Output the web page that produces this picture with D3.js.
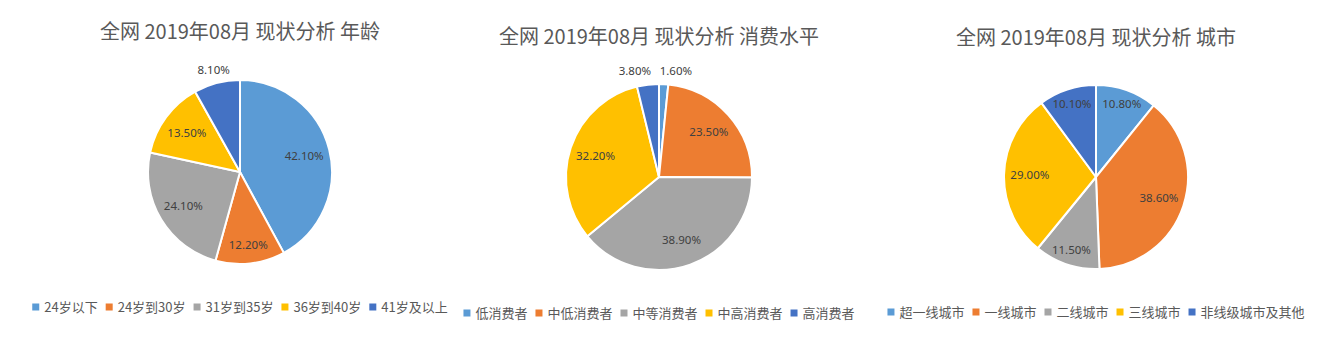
<!DOCTYPE html>
<html><head><meta charset="utf-8">
<script src="https://cdn.jsdelivr.net/npm/d3@7"></script>
<style>
html,body{margin:0;padding:0;background:#fff;}
svg{display:block;}
</style></head>
<body>
<svg id="chart" width="1338" height="339"></svg>
<script>
// ---- data ----
const titles = ["全网 2019年08月 现状分析 年龄", "全网 2019年08月 现状分析 消费水平", "全网 2019年08月 现状分析 城市"];
const ageCategories = ["24岁以下", "24岁到30岁", "31岁到35岁", "36岁到40岁", "41岁及以上"];
const ageValues = [42.1, 12.2, 24.1, 13.5, 8.1];
const spendCategories = ["低消费者", "中低消费者", "中等消费者", "中高消费者", "高消费者"];
const spendValues = [1.6, 23.5, 38.9, 32.2, 3.8];
const cityCategories = ["超一线城市", "一线城市", "二线城市", "三线城市", "非线级城市及其他"];
const cityValues = [10.8, 38.6, 11.5, 29.0, 10.1];
const colors = ["#5B9BD5", "#ED7D31", "#A5A5A5", "#FFC000", "#4472C4"];

// ---- layout ----
const layout = [
  {cx: 240, cy: 172, r: 92, titleY: 39, legendY: 307},
  {cx: 659, cy: 177, r: 93, titleY: 44, legendY: 313},
  {cx: 1096, cy: 177, r: 92, titleY: 45, legendY: 312}
];
const charts = [
  {title: titles[0], cats: ageCategories, vals: ageValues},
  {title: titles[1], cats: spendCategories, vals: spendValues},
  {title: titles[2], cats: cityCategories, vals: cityValues}
];

const svg = d3.select("#chart");
const cjk = "'Noto Sans CJK SC','Noto Sans',sans-serif";
const fmt = v => v.toFixed(2) + "%";

charts.forEach((c, i) => {
  const L = layout[i];
  const g = svg.append("g");
  // title
  g.append("text").attr("x", L.cx).attr("y", L.titleY)
    .attr("text-anchor", "middle").attr("font-family", cjk)
    .attr("font-size", 20).attr("fill", "#595959").text(c.title);

  const color = d3.scaleOrdinal().domain(c.cats).range(colors);
  const data = c.cats.map((k, j) => ({k, v: c.vals[j]}));
  const pie = d3.pie().value(d => d.v).sort(null);
  const arcs = pie(data);
  const arc = d3.arc().innerRadius(0).outerRadius(L.r);
  const pg = g.append("g").attr("transform", `translate(${L.cx},${L.cy})`);
  pg.selectAll("path").data(arcs).join("path")
    .attr("d", arc).attr("fill", d => color(d.data.k))
    .attr("stroke", "#fff").attr("stroke-width", 2).attr("stroke-linejoin", "round");

  // labels
  const total = d3.sum(c.vals);
  const outside = [];
  arcs.forEach(a => {
    const ang = a.endAngle - a.startAngle;
    const mid = (a.startAngle + a.endAngle) / 2;
    let x, y, isOut = a.data.v / total < 0.09;
    if (!isOut) {
      const rho = Math.max(0.72 * L.r, Math.min(0.84 * L.r, 56 / ang));
      x = Math.sin(mid) * rho; y = -Math.cos(mid) * rho;
    } else {
      const rho = L.r + 13;
      x = Math.sin(mid) * rho; y = -Math.cos(mid) * rho;
    }
    const o = {x, y, text: fmt(a.data.v), isOut};
    if (isOut) outside.push(o);
    a.lab = o;
  });
  // separate overlapping outside labels horizontally
  outside.sort((p, q) => p.x - q.x);
  for (let it = 0; it < 20; it++) {
    for (let j = 1; j < outside.length; j++) {
      const p = outside[j - 1], q = outside[j];
      if (Math.abs(p.y - q.y) < 14 && q.x - p.x < 41) {
        const m = (p.x + q.x) / 2; p.x = m - 20.5; q.x = m + 20.5;
        const yy = Math.min(p.y, q.y); p.y = yy; q.y = yy;
      }
    }
  }
  pg.selectAll("text.lab").data(arcs).join("text").attr("class", "lab")
    .attr("x", d => d.lab.x).attr("y", d => d.lab.y)
    .attr("dy", "0.35em").attr("text-anchor", "middle")
    .attr("font-family", "'Noto Sans',sans-serif").attr("font-size", 11.5)
    .attr("fill", "#404040").text(d => d.lab.text);

  // legend
  const lg = g.append("g");
  const items = lg.selectAll("g").data(c.cats).join("g");
  items.append("rect").attr("width", 7).attr("height", 7).attr("y", -3.5)
    .attr("fill", d => color(d));
  items.append("text").attr("x", 12).attr("dy", "0.35em")
    .attr("font-family", cjk).attr("font-size", 13).attr("fill", "#595959").text(d => d);
  let xpos = 0;
  items.each(function() {
    const w = d3.select(this).select("text").node().getComputedTextLength();
    d3.select(this).attr("transform", `translate(${xpos},0)`);
    xpos += 12 + w + 8;
  });
  const totalW = xpos - 8;
  lg.attr("transform", `translate(${L.cx - totalW / 2},${L.legendY})`);
});
</script>
</body></html>
